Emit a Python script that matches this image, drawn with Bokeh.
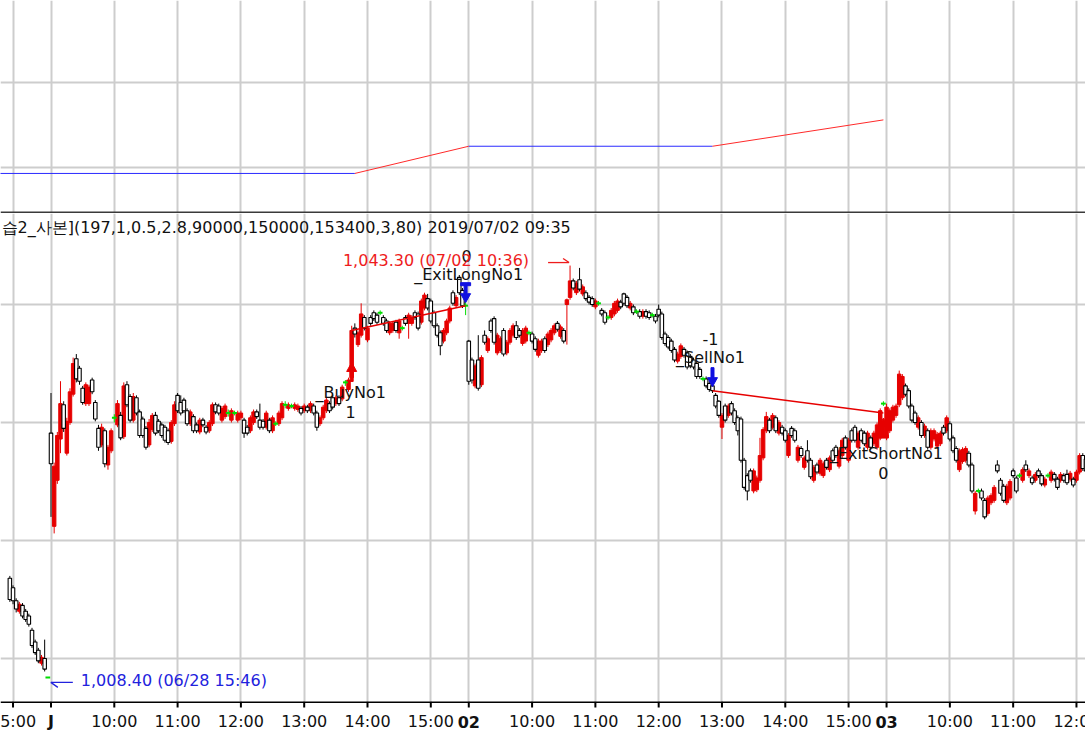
import numpy as np
from bokeh.plotting import figure
from bokeh.layouts import column
from bokeh.models import Range1d, FixedTicker, Grid, Span, Label
from bokeh.core.properties import value
from bokeh.embed import file_html
from bokeh.resources import INLINE

# ---------------- data (3-minute bars, bar 0 = 2019/07/01 09:00, 132 bars per session) ----------------
session_first_bar = [-13, 0, 132, 264]

o_0628 = [1016.8, 1016.0, 1014.9, 1014.0, 1014.5, 1014.0, 1013.6, 1012.4, 1011.4, 1010.7, 1009.6, 1010.0, 1008.4]
h_0628 = [1017.0, 1016.2, 1015.1, 1014.8, 1014.7, 1014.2, 1013.8, 1012.6, 1011.6, 1010.9, 1010.3, 1011.6, 1008.4]
l_0628 = [1014.8, 1014.6, 1013.9, 1013.8, 1013.4, 1013.1, 1012.7, 1010.9, 1010.3, 1009.6, 1009.4, 1008.9, 1008.4]
c_0628 = [1015.0, 1014.9, 1014.2, 1014.6, 1013.6, 1013.3, 1012.9, 1011.1, 1010.5, 1009.8, 1010.1, 1009.1, 1008.4]

o_0701 = [1029.1, 1021.2, 1025.1, 1028.6, 1031.5, 1027.4, 1030.0, 1032.4, 1035.4, 1034.6,
          1032.9, 1031.6, 1031.6, 1033.6, 1031.7, 1029.5, 1028.1, 1029.3, 1026.4, 1027.6,
          1030.4, 1029.8, 1030.6, 1028.8, 1033.2, 1032.2, 1030.2, 1032.1, 1030.9, 1030.3,
          1029.5, 1028.1, 1029.4, 1030.6, 1030.1, 1029.8, 1029.6, 1029.3, 1028.4, 1029.9,
          1032.3, 1031.7, 1031.9, 1031.0, 1029.9, 1030.5, 1029.8, 1029.2, 1030.2, 1029.6,
          1029.3, 1029.9, 1031.5, 1031.4, 1030.2, 1030.5, 1030.8, 1030.2, 1030.8, 1030.2,
          1030.4, 1030.2, 1029.6, 1029.3, 1030.0, 1030.9, 1030.2, 1030.1, 1029.6, 1030.2,
          1029.3, 1029.9, 1029.9, 1030.4, 1031.5, 1031.2, 1031.4, 1031.2, 1031.1, 1031.2,
          1031.0, 1031.3, 1031.0, 1031.4, 1030.8, 1029.9, 1030.4, 1031.0, 1031.6, 1032.1,
          1031.6, 1032.1, 1032.0, 1033.4, 1032.8, 1033.8, 1038.0, 1036.6, 1037.4, 1038.9,
          1037.0, 1038.9, 1039.3, 1039.1, 1039.3, 1038.9, 1038.6, 1037.6, 1037.8, 1038.5,
          1037.6, 1038.0, 1038.9, 1038.4, 1038.4, 1039.3, 1039.2, 1038.5, 1039.7, 1040.5,
          1040.3, 1039.3, 1038.2, 1037.6, 1036.9, 1037.6, 1038.6, 1041.0, 1039.9, 1042.3,
          1041.2, 1039.9]
h_0701 = [1032.5, 1026.6, 1029.2, 1033.5, 1031.8, 1030.4, 1032.9, 1035.5, 1035.8, 1034.8,
          1033.1, 1033.4, 1033.2, 1033.8, 1031.9, 1029.8, 1029.9, 1029.5, 1028.1, 1029.5,
          1030.7, 1031.9, 1030.9, 1033.4, 1033.5, 1032.4, 1032.5, 1032.3, 1031.1, 1030.5,
          1029.7, 1030.3, 1030.8, 1030.9, 1030.3, 1030.0, 1029.8, 1029.5, 1030.2, 1031.8,
          1032.5, 1032.3, 1032.1, 1031.2, 1031.1, 1030.7, 1030.0, 1030.4, 1030.4, 1029.8,
          1030.2, 1031.7, 1031.7, 1031.6, 1031.4, 1031.6, 1031.1, 1031.2, 1031.0, 1031.0,
          1031.0, 1030.4, 1029.8, 1030.6, 1031.1, 1031.1, 1031.6, 1030.3, 1031.0, 1030.4,
          1030.6, 1030.1, 1031.0, 1031.8, 1031.8, 1031.7, 1031.6, 1031.7, 1031.6, 1031.4,
          1031.6, 1031.5, 1031.8, 1031.6, 1031.0, 1030.6, 1031.5, 1032.1, 1031.8, 1032.3,
          1032.3, 1032.3, 1033.2, 1033.6, 1033.8, 1038.2, 1038.4, 1037.8, 1040.1, 1039.1,
          1038.2, 1039.1, 1039.5, 1039.3, 1039.5, 1039.1, 1038.8, 1038.6, 1038.6, 1038.7,
          1038.8, 1038.2, 1039.1, 1039.3, 1039.1, 1039.5, 1039.4, 1040.5, 1041.0, 1040.9,
          1040.5, 1039.5, 1038.4, 1037.8, 1038.0, 1038.8, 1039.9, 1041.2, 1040.8, 1042.5,
          1041.4, 1040.2]
l_0701 = [1022.0, 1020.6, 1024.8, 1027.4, 1029.2, 1027.2, 1029.8, 1032.2, 1033.4, 1033.2,
          1031.5, 1031.4, 1031.4, 1032.4, 1030.1, 1027.6, 1027.9, 1026.2, 1026.0, 1027.4,
          1030.0, 1029.6, 1028.5, 1028.6, 1031.3, 1030.0, 1030.0, 1030.6, 1028.7, 1028.7,
          1027.7, 1027.9, 1029.2, 1028.9, 1029.1, 1028.7, 1028.3, 1028.1, 1028.2, 1029.7,
          1030.8, 1030.6, 1030.8, 1029.7, 1029.7, 1029.1, 1029.1, 1029.0, 1029.6, 1029.0,
          1029.1, 1029.7, 1030.7, 1030.6, 1030.0, 1030.3, 1030.5, 1030.0, 1030.6, 1030.0,
          1030.2, 1028.7, 1028.9, 1029.1, 1029.8, 1030.3, 1029.4, 1029.4, 1029.4, 1029.1,
          1029.1, 1029.7, 1029.7, 1030.2, 1031.2, 1031.0, 1031.2, 1031.0, 1030.9, 1030.6,
          1030.8, 1030.8, 1030.8, 1030.6, 1029.3, 1029.7, 1030.2, 1030.8, 1030.8, 1031.1,
          1031.4, 1031.4, 1031.8, 1033.1, 1032.6, 1033.5, 1037.2, 1036.4, 1037.2, 1037.8,
          1036.8, 1038.2, 1038.6, 1038.3, 1039.1, 1038.2, 1037.6, 1037.4, 1037.6, 1037.6,
          1037.1, 1037.8, 1038.2, 1037.1, 1038.2, 1038.7, 1037.8, 1038.3, 1039.5, 1039.5,
          1038.4, 1038.0, 1037.2, 1035.7, 1036.7, 1037.4, 1038.4, 1039.9, 1039.7, 1040.8,
          1039.7, 1039.1]
c_0701 = [1026.5, 1026.3, 1028.9, 1031.6, 1029.5, 1030.1, 1032.6, 1035.0, 1033.7, 1033.5,
          1031.7, 1033.2, 1033.0, 1032.6, 1030.3, 1027.9, 1029.6, 1026.5, 1027.9, 1029.3,
          1030.4, 1031.6, 1028.7, 1033.1, 1031.5, 1030.2, 1032.2, 1030.8, 1028.9, 1028.9,
          1027.9, 1030.0, 1030.6, 1029.1, 1029.3, 1028.9, 1028.5, 1028.3, 1030.0, 1031.5,
          1031.0, 1030.8, 1031.0, 1029.9, 1030.9, 1029.3, 1029.3, 1030.2, 1029.8, 1029.2,
          1030.0, 1031.5, 1030.9, 1030.8, 1031.2, 1031.4, 1030.8, 1031.0, 1030.8, 1030.8,
          1030.8, 1029.1, 1029.1, 1030.4, 1030.9, 1030.5, 1029.6, 1029.6, 1030.8, 1029.3,
          1030.4, 1029.9, 1030.8, 1031.6, 1031.5, 1031.5, 1031.4, 1031.5, 1031.4, 1030.8,
          1031.4, 1031.0, 1031.6, 1030.8, 1029.6, 1030.4, 1031.3, 1031.9, 1031.0, 1031.3,
          1032.1, 1031.6, 1033.0, 1033.4, 1033.6, 1037.8, 1037.5, 1037.6, 1039.2, 1038.0,
          1038.0, 1038.4, 1038.8, 1038.5, 1039.3, 1038.4, 1037.8, 1038.4, 1038.4, 1037.8,
          1038.6, 1038.0, 1038.4, 1039.1, 1038.9, 1038.9, 1038.0, 1040.3, 1040.8, 1039.7,
          1038.6, 1038.2, 1037.4, 1036.5, 1037.8, 1038.6, 1039.7, 1040.1, 1040.6, 1041.0,
          1039.9, 1039.9]

o_0702 = [1036.9, 1035.3, 1033.1, 1035.3, 1033.2, 1037.4, 1036.1, 1038.6, 1038.8, 1035.9,
          1036.1, 1037.8, 1035.9, 1036.8, 1037.4, 1038.2, 1037.8, 1036.7, 1036.9, 1037.6,
          1037.5, 1037.1, 1035.7, 1036.1, 1037.1, 1036.6, 1037.0, 1037.6, 1038.4, 1037.3,
          1037.8, 1040.0, 1040.6, 1042.0, 1041.0, 1042.1, 1040.9, 1041.0, 1040.6, 1040.5,
          1039.8, 1040.1, 1039.5, 1039.3, 1038.9, 1038.9, 1039.2, 1039.5, 1040.2, 1040.9,
          1040.6, 1039.7, 1039.8, 1039.4, 1039.4, 1039.0, 1039.4, 1039.3, 1039.1, 1039.0,
          1039.6, 1039.2, 1037.5, 1037.2, 1036.9, 1036.2, 1035.2, 1035.6, 1036.2, 1035.9,
          1035.6, 1035.3, 1035.0, 1034.5, 1033.7, 1033.7, 1033.3, 1033.1, 1032.3, 1031.8,
          1029.6, 1031.4, 1030.6, 1031.6, 1031.0, 1030.4, 1030.3, 1026.8, 1025.5, 1025.9,
          1024.2, 1024.3, 1025.1, 1027.0, 1029.3, 1030.2, 1029.6, 1030.4, 1029.1, 1029.6,
          1029.3, 1027.2, 1029.5, 1029.3, 1026.8, 1027.8, 1026.2, 1027.6, 1026.8, 1025.1,
          1026.4, 1025.7, 1025.5, 1026.8, 1026.0, 1027.6, 1027.9, 1026.3, 1027.2, 1028.7,
          1026.8, 1029.3, 1029.6, 1027.9, 1029.3, 1029.1, 1027.9, 1028.7, 1028.2, 1027.9,
          1028.7, 1031.6]
h_0702 = [1037.0, 1035.5, 1035.0, 1037.4, 1035.7, 1037.8, 1037.3, 1038.8, 1039.0, 1037.6,
          1037.3, 1038.0, 1037.0, 1038.0, 1038.4, 1038.6, 1038.0, 1038.0, 1038.2, 1037.8,
          1037.7, 1037.3, 1037.1, 1037.1, 1037.3, 1037.7, 1038.0, 1038.4, 1038.6, 1038.3,
          1038.0, 1040.5, 1043.3, 1042.2, 1042.0, 1043.1, 1041.7, 1041.2, 1040.8, 1040.7,
          1040.5, 1040.3, 1039.7, 1039.5, 1039.1, 1039.7, 1040.3, 1040.5, 1040.4, 1041.0,
          1040.8, 1040.3, 1040.0, 1039.6, 1039.6, 1039.6, 1039.6, 1039.5, 1039.3, 1039.2,
          1040.0, 1039.4, 1037.7, 1037.4, 1037.1, 1036.4, 1036.0, 1036.7, 1036.4, 1036.1,
          1035.8, 1035.5, 1035.2, 1034.7, 1033.9, 1033.9, 1033.5, 1033.3, 1032.5, 1031.9,
          1030.8, 1031.6, 1031.6, 1031.8, 1031.2, 1030.6, 1030.5, 1027.0, 1025.7, 1026.1,
          1026.1, 1025.5, 1028.7, 1029.6, 1030.9, 1030.4, 1030.8, 1030.6, 1030.2, 1029.8,
          1029.5, 1029.1, 1029.7, 1029.5, 1028.1, 1028.0, 1027.2, 1028.5, 1027.0, 1026.4,
          1026.6, 1027.0, 1026.7, 1027.0, 1027.2, 1027.8, 1028.1, 1027.8, 1028.7, 1028.9,
          1028.7, 1029.5, 1029.8, 1029.3, 1029.5, 1029.3, 1029.3, 1028.9, 1029.3, 1030.0,
          1031.2, 1031.8]
l_0702 = [1033.2, 1033.3, 1032.9, 1032.7, 1033.0, 1036.6, 1035.9, 1037.6, 1036.6, 1035.7,
          1035.9, 1035.6, 1035.7, 1036.6, 1037.2, 1037.0, 1037.2, 1036.5, 1036.7, 1037.4,
          1036.7, 1036.0, 1035.5, 1035.9, 1035.9, 1036.4, 1036.8, 1037.4, 1037.7, 1037.1,
          1036.7, 1036.6, 1040.4, 1041.2, 1040.8, 1041.1, 1040.7, 1040.3, 1040.0, 1039.8,
          1039.6, 1039.9, 1039.0, 1038.3, 1038.7, 1038.7, 1039.0, 1039.3, 1039.6, 1039.9,
          1039.7, 1039.5, 1039.1, 1039.2, 1038.8, 1038.8, 1038.8, 1038.7, 1038.9, 1038.4,
          1038.9, 1037.0, 1036.5, 1036.2, 1035.9, 1035.1, 1035.0, 1035.4, 1035.5, 1034.5,
          1034.6, 1034.5, 1033.7, 1033.7, 1033.5, 1032.9, 1032.6, 1032.5, 1031.2, 1030.4,
          1028.6, 1030.0, 1030.4, 1030.6, 1029.8, 1028.9, 1026.6, 1024.3, 1023.4, 1024.9,
          1024.0, 1024.1, 1024.9, 1026.8, 1029.1, 1029.1, 1029.4, 1029.1, 1028.9, 1028.9,
          1028.3, 1027.0, 1028.7, 1028.3, 1026.6, 1027.0, 1026.0, 1026.6, 1025.2, 1024.9,
          1025.6, 1025.5, 1025.3, 1026.0, 1025.8, 1026.6, 1027.0, 1026.1, 1027.0, 1027.7,
          1026.6, 1028.3, 1028.3, 1027.7, 1028.3, 1028.0, 1027.7, 1027.7, 1028.0, 1027.7,
          1028.5, 1031.4]
c_0702 = [1033.5, 1033.6, 1034.8, 1032.9, 1035.5, 1036.8, 1037.1, 1037.8, 1036.8, 1037.4,
          1037.1, 1035.8, 1036.8, 1037.8, 1038.2, 1037.2, 1037.4, 1037.8, 1038.0, 1037.6,
          1036.9, 1036.2, 1036.9, 1036.9, 1036.1, 1037.5, 1037.8, 1038.2, 1037.9, 1038.1,
          1036.9, 1040.4, 1042.0, 1041.4, 1041.8, 1041.3, 1041.5, 1040.5, 1040.2, 1040.0,
          1040.3, 1040.1, 1039.2, 1038.5, 1038.9, 1039.5, 1040.1, 1040.3, 1039.8, 1040.1,
          1039.9, 1040.1, 1039.3, 1039.4, 1039.0, 1039.4, 1039.0, 1038.9, 1039.1, 1038.6,
          1039.1, 1037.2, 1036.7, 1036.4, 1036.1, 1035.3, 1035.8, 1036.5, 1035.7, 1034.7,
          1034.8, 1034.7, 1033.9, 1033.9, 1033.7, 1033.1, 1032.8, 1032.7, 1031.4, 1030.6,
          1030.6, 1030.2, 1031.4, 1030.8, 1030.0, 1029.3, 1026.8, 1024.5, 1024.2, 1025.1,
          1025.9, 1025.3, 1027.2, 1029.4, 1030.5, 1029.3, 1030.6, 1029.3, 1030.0, 1029.1,
          1028.5, 1028.9, 1028.9, 1028.5, 1027.9, 1027.2, 1027.0, 1026.8, 1025.4, 1026.2,
          1025.8, 1026.8, 1026.5, 1026.2, 1027.0, 1026.8, 1027.2, 1027.6, 1028.5, 1027.9,
          1028.5, 1028.5, 1028.5, 1029.1, 1028.5, 1028.2, 1029.1, 1027.9, 1029.1, 1029.8,
          1031.0, 1031.6]

o_0703 = [1028.8, 1029.3, 1030.2, 1030.6, 1031.5, 1032.1, 1033.1, 1032.7, 1031.4, 1030.8,
          1029.6, 1030.0, 1028.9, 1029.3, 1027.9, 1028.6, 1028.0, 1028.2, 1029.6, 1029.3,
          1029.9, 1028.7, 1027.8, 1026.0, 1026.7, 1026.8, 1027.4, 1026.4, 1022.5, 1024.2,
          1024.2, 1023.4, 1022.3, 1023.2, 1023.4, 1026.4, 1025.1, 1024.6, 1023.2, 1023.6,
          1025.9, 1025.3, 1025.5, 1025.1, 1026.4, 1025.5, 1025.3, 1025.1, 1025.9, 1025.5,
          1024.7, 1025.5, 1025.1, 1025.6, 1025.2, 1025.1, 1025.5, 1025.6, 1025.2, 1025.2,
          1025.1, 1025.8, 1027.2, 1026.9]
h_0703 = [1031.6, 1031.2, 1031.5, 1031.6, 1034.4, 1034.1, 1033.3, 1032.9, 1031.6, 1031.0,
          1030.6, 1030.2, 1029.9, 1029.5, 1029.5, 1029.5, 1029.2, 1029.3, 1029.8, 1030.6,
          1030.1, 1028.9, 1028.0, 1027.8, 1027.9, 1028.0, 1027.6, 1026.6, 1024.2, 1024.4,
          1024.4, 1023.6, 1023.8, 1024.0, 1024.7, 1026.8, 1025.3, 1024.8, 1024.8, 1025.2,
          1026.1, 1025.5, 1025.7, 1026.2, 1026.8, 1026.1, 1025.5, 1025.8, 1026.1, 1025.7,
          1025.4, 1025.7, 1026.0, 1025.8, 1025.4, 1025.8, 1025.7, 1026.0, 1025.9, 1025.4,
          1026.0, 1027.4, 1027.4, 1027.1]
l_0703 = [1028.5, 1029.1, 1030.0, 1030.4, 1031.3, 1031.9, 1032.2, 1031.2, 1030.0, 1029.8,
          1029.4, 1028.7, 1028.7, 1027.7, 1027.7, 1028.4, 1027.8, 1028.0, 1028.9, 1029.1,
          1028.4, 1027.4, 1026.6, 1025.8, 1026.5, 1026.6, 1026.2, 1024.0, 1022.2, 1024.0,
          1023.4, 1021.8, 1022.1, 1023.0, 1023.2, 1025.7, 1023.8, 1023.2, 1023.0, 1023.4,
          1025.3, 1024.0, 1025.3, 1024.9, 1025.8, 1025.3, 1024.7, 1024.9, 1025.3, 1024.6,
          1024.5, 1025.3, 1024.9, 1025.0, 1024.3, 1024.9, 1024.9, 1024.7, 1025.0, 1024.5,
          1024.9, 1025.6, 1025.9, 1025.7]
c_0703 = [1031.3, 1031.0, 1031.3, 1031.4, 1034.1, 1033.9, 1032.4, 1031.4, 1030.2, 1030.0,
          1030.4, 1028.9, 1029.7, 1027.9, 1029.3, 1029.3, 1029.0, 1029.1, 1029.1, 1030.4,
          1028.6, 1027.6, 1026.8, 1027.6, 1027.7, 1027.8, 1026.4, 1024.2, 1024.0, 1024.2,
          1023.6, 1022.0, 1023.6, 1023.8, 1024.5, 1025.9, 1024.0, 1023.4, 1024.6, 1025.0,
          1025.5, 1024.2, 1025.5, 1026.0, 1026.0, 1025.9, 1024.9, 1025.6, 1025.5, 1024.8,
          1025.2, 1025.5, 1025.8, 1025.2, 1024.5, 1025.6, 1025.1, 1024.9, 1025.7, 1024.7,
          1025.8, 1027.2, 1026.1, 1025.9]

# x-axis ticks (bar index) and their labels
tick_bars = [-12, 0, 20, 40, 60, 80, 100, 120, 132, 152, 172, 192, 212, 232, 252, 264, 284, 304, 324]
tick_labels = ["15:00", "J", "10:00", "11:00", "12:00", "13:00", "14:00", "15:00", "02",
               "10:00", "11:00", "12:00", "13:00", "14:00", "15:00", "03", "10:00", "11:00", "12:00"]
day_labels = ["J", "02", "03"]
price_grid = [1010, 1020, 1030, 1040]
equity_grid = [0, 10]

# trades
entry_bar = [95, 209]
entry_price = [1037.8, 1032.7]
entry_name = ["_BuyNo1", "_SellNo1"]
entry_pos = ["1", "-1"]
exit_bar = [131, 263]
exit_price = [1039.9, 1030.8]
exit_name = ["_ExitLongNo1", "_ExitShortNo1"]
exit_pos = ["0", "0"]

# equity panel
equity_bar = [-17, 96, 132, 209, 263]
equity_val = [-0.7, -0.7, 2.5, 2.5, 5.6]
equity_in_trade = [0, 1, 0, 1]

hi_bar, hi_price, hi_text = 164, 1043.3, "1,043.30 (07/02 10:36)"
lo_bar, lo_price, lo_text = -1, 1008.4, "1,008.40 (06/28 15:46)"
title_text = "습2_사본](197,1,0.5,2.8,90000,150000,153400,3,80)  2019/07/02 09:35"

# ---------------- layout constants ----------------
W = 1085
H_TOP = 213
H_MAIN = 488
H_AXIS = 32
BAR_PX = 3.165
BAR0_PX = 50.5
FONT = "DejaVu Sans"
RED = "#e60000"
GREEN = "#00dd00"
GRID = "#cdcdcd"

x_lo = -BAR0_PX / BAR_PX
x_hi = x_lo + W / BAR_PX
xr = Range1d(x_lo, x_hi)
kx = W / (x_hi - x_lo)

y_lo, y_hi = 1006.356, 1047.712
ky = H_MAIN / (y_hi - y_lo)
e_lo, e_hi = -5.412, 19.647
ke = H_TOP / (e_hi - e_lo)

# ---------------- assemble bars ----------------
O = np.array(o_0628 + o_0701 + o_0702 + o_0703)
Hh = np.array(h_0628 + h_0701 + h_0702 + h_0703)
Ll = np.array(l_0628 + l_0701 + l_0702 + l_0703)
C = np.array(c_0628 + c_0701 + c_0702 + c_0703)
lens = [len(o_0628), len(o_0701), len(o_0702), len(o_0703)]
X = np.concatenate([np.arange(f, f + n) for f, n in zip(session_first_bar, lens)]).astype(float)

up = C > O
dn = C < O
dj = C == O


def base_fig(height, y_range):
    return figure(width=W, height=height, x_range=xr, y_range=y_range,
                  x_axis_type=None, y_axis_type=None, output_backend="svg", toolbar_location=None,
                  min_border_left=0, min_border_right=0, min_border_top=0, min_border_bottom=0,
                  outline_line_color=None, background_fill_color="white", border_fill_color="white")


# ---------------- top (equity) panel ----------------
p1 = base_fig(H_TOP, Range1d(e_lo, e_hi))
p1.add_layout(Grid(dimension=0, ticker=FixedTicker(ticks=tick_bars), grid_line_color=GRID, grid_line_width=2))
p1.add_layout(Grid(dimension=1, ticker=FixedTicker(ticks=equity_grid), grid_line_color=GRID, grid_line_width=2))
seg_col = ["#ff2a2a" if s else "#2a2aff" for s in equity_in_trade]
p1.segment(x0=equity_bar[:-1], y0=equity_val[:-1], x1=equity_bar[1:], y1=equity_val[1:],
           line_color=seg_col, line_width=1)
p1.add_layout(Span(location=e_lo + 1.0 / ke, dimension="width", line_color="#3a3a3a", line_width=2))

# ---------------- main (price) panel ----------------
p2 = base_fig(H_MAIN, Range1d(y_lo, y_hi))
p2.add_layout(Grid(dimension=0, ticker=FixedTicker(ticks=tick_bars), grid_line_color=GRID, grid_line_width=2))
p2.add_layout(Grid(dimension=1, ticker=FixedTicker(ticks=price_grid), grid_line_color=GRID, grid_line_width=2))

# candles: wicks then bodies
wick_col = np.where(up, RED, np.where(dn, "black", GREEN))
p2.segment(x0=X, y0=Ll, x1=X, y1=Hh, line_color=list(wick_col), line_width=1)
BW = 1.1
p2.vbar(x=X[up], width=BW, top=C[up], bottom=O[up], fill_color=RED, line_color=RED, line_width=1)
p2.vbar(x=X[dn], width=BW, top=O[dn], bottom=C[dn], fill_color="white", line_color="black", line_width=1.1)
p2.segment(x0=X[dj] - 0.75, y0=O[dj], x1=X[dj] + 0.75, y1=O[dj], line_color=GREEN, line_width=2)

# trade lines
p2.segment(x0=entry_bar, y0=entry_price, x1=exit_bar, y1=exit_price, line_color=RED, line_width=1.5)

# arrow shapes in pixel offsets (dx right, dy down) relative to the tip
ARROW_DOWN = [(0, 0), (5, -9), (1.5, -9), (1.5, -19), (-1.5, -19), (-1.5, -9), (-5, -9)]
ARROW_UP = [(x, -y) for x, y in ARROW_DOWN]
BAR_TOP = [(-5, -17), (5, -17), (5, -20), (-5, -20)]
BAR_BOT = [(x, -y) for x, y in BAR_TOP]


def shape(bx, py, offs, tip_dy):
    xs = [bx + dx / kx for dx, dy in offs]
    ys = [py - (tip_dy + dy) / ky for dx, dy in offs]
    return xs, ys


px_list, py_list, col_list = [], [], []
for b, pr, nm in zip(entry_bar, entry_price, entry_name):
    if nm.startswith("_Buy"):
        xs, ys = shape(b, pr, ARROW_UP, 32)
        px_list.append(xs); py_list.append(ys); col_list.append(RED)
    else:
        xs, ys = shape(b, pr, ARROW_DOWN, -4)
        px_list.append(xs); py_list.append(ys); col_list.append("#1010e0")
for b, pr, nm in zip(exit_bar, exit_price, exit_name):
    if "Long" in nm:
        for offs in (ARROW_DOWN, BAR_TOP):
            xs, ys = shape(b, pr, offs, -3)
            px_list.append(xs); py_list.append(ys); col_list.append("#1010e0")
    else:
        for offs in (ARROW_UP, BAR_BOT):
            xs, ys = shape(b, pr, offs, 5)
            px_list.append(xs); py_list.append(ys); col_list.append(RED)
p2.patches(xs=px_list, ys=py_list, fill_color=col_list, line_color=col_list, line_width=1)


def txt(plot, bx, py, dx, dy, text, color="#111111", align="center", size="16px", baseline="middle"):
    plot.add_layout(Label(x=bx + dx / kx, y=py - dy / ky, text=text, text_align=align,
                          text_baseline=baseline, text_font=FONT, text_font_size=size,
                          text_color=color))


# signal texts (pixel offsets from the trade price)
txt(p2, entry_bar[0], entry_price[0], -1, 62, entry_name[0])
txt(p2, entry_bar[0], entry_price[0], -1, 82, entry_pos[0])
txt(p2, entry_bar[1], entry_price[1], -2, -33, entry_name[1])
txt(p2, entry_bar[1], entry_price[1], -2, -52, entry_pos[1])
txt(p2, exit_bar[0], exit_price[0], 3, -31, exit_name[0])
txt(p2, exit_bar[0], exit_price[0], 1, -50, exit_pos[0])
txt(p2, exit_bar[1], exit_price[1], 3, 40, exit_name[1])
txt(p2, exit_bar[1], exit_price[1], 0, 60, exit_pos[1])

# extreme price notes
txt(p2, hi_bar, hi_price, -41, -5, hi_text, color="#ee1c1c", align="right")
p2.segment(x0=[hi_bar - 22 / kx, hi_bar - 1 / kx], y0=[hi_price + 3 / ky, hi_price + 3 / ky],
           x1=[hi_bar - 1 / kx, hi_bar - 7 / kx], y1=[hi_price + 3 / ky, hi_price + 7 / ky],
           line_color="#ee1c1c", line_width=1.3)
txt(p2, lo_bar, lo_price, 33, 3, lo_text, color="#2222dd", align="left")
p2.segment(x0=[lo_bar + 3 / kx, lo_bar + 3 / kx], y0=[lo_price - 5 / ky, lo_price - 5 / ky],
           x1=[lo_bar + 25 / kx, lo_bar + 10 / kx], y1=[lo_price - 5 / ky, lo_price - 10 / ky],
           line_color="#2222dd", line_width=1.3)

# study title line
p2.add_layout(Label(x=x_lo + 1 / kx, y=y_hi - 14 / ky, text=title_text, text_align="left",
                    text_baseline="middle", text_font=FONT, text_font_size="16px", text_color="#111111"))

# ---------------- time axis strip ----------------
p3 = base_fig(H_AXIS, Range1d(0, H_AXIS))
p3.add_layout(Span(location=H_AXIS - 0.5, dimension="width", line_color="black", line_width=2))
p3.segment(x0=tick_bars, y0=[H_AXIS] * len(tick_bars), x1=tick_bars, y1=[H_AXIS - 6] * len(tick_bars),
           line_color="black", line_width=2)
norm = [(b, t) for b, t in zip(tick_bars, tick_labels) if t not in day_labels]
bold = [(b, t) for b, t in zip(tick_bars, tick_labels) if t in day_labels]
p3.text(x=[b for b, t in norm], y=[12] * len(norm), text=[t for b, t in norm],
        text_font=value(FONT), text_font_size=value("16px"), text_align="center",
        text_baseline="middle", text_color="#111111")
p3.text(x=[b for b, t in bold], y=[12] * len(bold), text=[t for b, t in bold],
        text_font=value(FONT), text_font_size=value("16px"), text_font_style="bold",
        text_align="center", text_baseline="middle", text_color="#111111")

layout = column(p1, p2, p3, spacing=0)
open("out.html", "w").write(file_html(layout, INLINE))
